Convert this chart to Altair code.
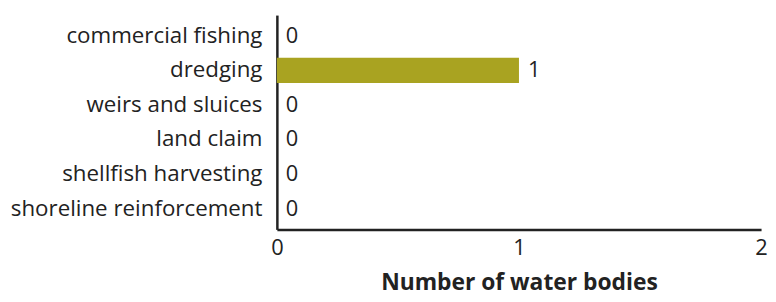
import altair as alt
import pandas as pd

categories = ["commercial fishing", "dredging", "weirs and sluices", "land claim",
              "shellfish harvesting", "shoreline reinforcement"]
values = [0, 1, 0, 0, 0, 0]

df = pd.DataFrame({"category": categories, "value": values})

FONT = "Open Sans"
TEXT = "#222222"

y = alt.Y("category:N", sort=categories, title=None,
          scale=alt.Scale(paddingInner=0.27, paddingOuter=0.235),
          axis=alt.Axis(ticks=False, labelFont=FONT, labelFontSize=22.5, labelColor=TEXT,
                        labelPadding=15, domainColor=TEXT, domainWidth=2.5, labelLimit=400))
x = alt.X("value:Q", title="Number of water bodies",
          scale=alt.Scale(domain=[0, 2], nice=False),
          axis=alt.Axis(tickCount=2, tickMinStep=1, ticks=False, grid=False,
                        labelOverlap=False, labelBound=False,
                        labelFont=FONT, labelFontSize=22, labelColor=TEXT, labelFlush=False,
                        labelPadding=8, domainColor=TEXT, domainWidth=2.5,
                        titleFont=FONT, titleFontSize=23, titleFontWeight="bold",
                        titleColor=TEXT, titlePadding=14))

bars = alt.Chart(df).mark_bar(color="#A9A321").encode(x=x, y=y)
labels = alt.Chart(df).mark_text(align="left", baseline="middle", dx=9, font=FONT,
                                 fontSize=22, color=TEXT).encode(x=x, y=y, text="value:Q")

chart = (bars + labels).properties(
    width=766, height=288,
    padding={"left": 2, "top": 6, "right": 0, "bottom": 0},
    autosize=alt.AutoSizeParams(type="fit", contains="padding"),
).configure_view(stroke=None)
chart.save("out.html", embed_options={"renderer": "svg", "actions": False})
